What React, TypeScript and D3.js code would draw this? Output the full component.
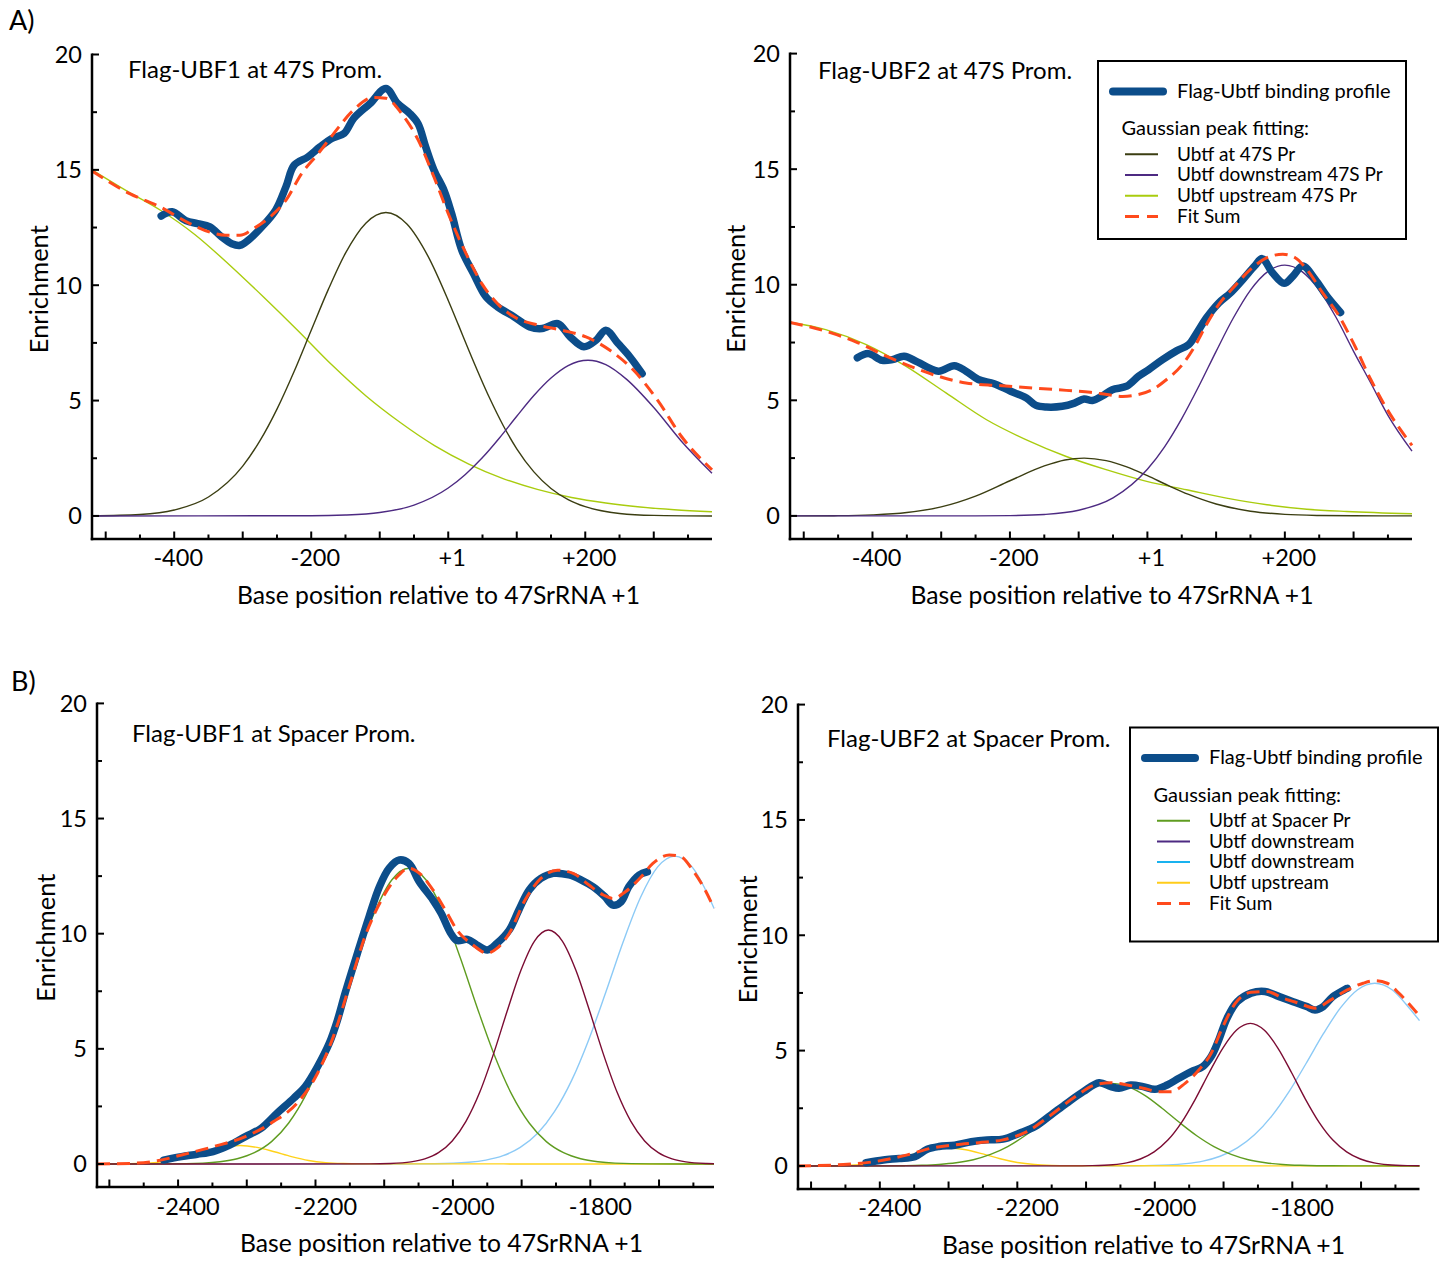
import React from 'react';
import * as d3 from 'd3';

type P = [number, number];

// ---------- tick values / labels ----------
const yTickValues = [0, 5, 10, 15, 20];
const xTickValuesA = [-400, -200, 0, 200];
const xTickLabelsA = ['-400', '-200', '+1', '+200'];
const xTickValuesB = [-2400, -2200, -2000, -1800];
const xTickLabelsB = ['-2400', '-2200', '-2000', '-1800'];

// ---------- panel titles ----------
const panelTitles = ['Flag-UBF1 at 47S Prom.', 'Flag-UBF2 at 47S Prom.', 'Flag-UBF1 at Spacer Prom.', 'Flag-UBF2 at Spacer Prom.'];
const legendLabelsA = ['Ubtf at 47S Pr', 'Ubtf downstream 47S Pr', 'Ubtf upstream 47S Pr', 'Fit Sum'];
const legendLabelsB = ['Ubtf at Spacer Pr', 'Ubtf downstream', 'Ubtf downstream', 'Ubtf upstream', 'Fit Sum'];

// ---------- A1: Flag-UBF1 at 47S promoter ----------
const a1Profile: P[] = [[-419, 13.0], [-403, 13.18], [-383, 12.8], [-366, 12.67], [-348, 12.53], [-331, 12.1], [-316, 11.8], [-304, 11.73], [-290, 12.0], [-272, 12.53], [-252, 13.25], [-237, 14.26], [-225, 15.2], [-205, 15.56], [-187, 16.0], [-170, 16.36], [-152, 16.58], [-138, 17.23], [-114, 17.88], [-91, 18.53], [-74, 17.88], [-56, 17.44], [-44, 17.0], [-33, 16.0], [-21, 15.0], [-6, 14.1], [5, 13.1], [20, 11.5], [37, 10.5], [55, 9.5], [72, 9.06], [96, 8.63], [119, 8.19], [137, 8.12], [160, 8.34], [178, 7.76], [198, 7.33], [216, 7.62], [230, 8.05], [248, 7.47], [265, 6.9], [283, 6.17]];
const a1FitSum: P[] = [[-520, 14.95], [-465, 13.97], [-421, 13.4], [-377, 12.67], [-348, 12.3], [-325, 12.17], [-304, 12.17], [-284, 12.46], [-260, 12.96], [-237, 13.68], [-214, 14.84], [-190, 15.7], [-167, 16.58], [-138, 17.6], [-109, 18.14], [-91, 18.1], [-68, 17.44], [-44, 16.3], [-21, 14.7], [2, 12.96], [26, 11.37], [49, 10.07], [72, 9.2], [96, 8.63], [131, 8.27], [166, 8.05], [201, 7.76], [236, 7.18], [271, 6.3], [306, 5.0], [341, 3.42], [385, 2.0]];
const a1At47S: P[] = [[-520, 0.007], [-450, 0.064], [-400, 0.255], [-350, 0.82], [-300, 2.16], [-275, 3.25], [-250, 4.63], [-225, 6.26], [-200, 8.05], [-175, 9.82], [-150, 11.39], [-120, 12.7], [-91, 13.15], [-60, 12.64], [-30, 11.28], [0, 9.34], [15, 8.27], [30, 7.18], [60, 5.13], [80, 3.93], [100, 2.91], [125, 1.91], [150, 1.19], [175, 0.71], [200, 0.4], [250, 0.108], [300, 0.024], [385, 0]];
const a1Downstream: P[] = [[-520, 0], [-200, 0.008], [-150, 0.038], [-100, 0.148], [-50, 0.47], [0, 1.21], [25, 1.8], [50, 2.53], [75, 3.39], [100, 4.32], [125, 5.22], [150, 5.98], [175, 6.52], [204, 6.75], [230, 6.56], [260, 5.93], [300, 4.7], [340, 3.25], [385, 1.85]];
const a1Upstream: P[] = [[-520, 15.0], [-470, 14.1], [-420, 13.25], [-370, 12.2], [-320, 10.9], [-270, 9.5], [-220, 8.05], [-170, 6.55], [-120, 5.2], [-70, 4.05], [-20, 3.05], [30, 2.25], [80, 1.62], [130, 1.15], [180, 0.8], [230, 0.56], [280, 0.39], [330, 0.27], [385, 0.18]];

// ---------- A2: Flag-UBF2 at 47S promoter ----------
const a2Profile: P[] = [[-422, 6.84], [-406, 7.02], [-386, 6.73], [-371, 6.76], [-354, 6.91], [-334, 6.65], [-304, 6.26], [-281, 6.5], [-264, 6.26], [-246, 5.9], [-223, 5.72], [-199, 5.39], [-176, 5.1], [-162, 4.78], [-147, 4.71], [-124, 4.74], [-106, 4.88], [-92, 5.06], [-80, 4.99], [-65, 5.2], [-51, 5.46], [-30, 5.61], [-13, 6.04], [2, 6.33], [22, 6.76], [43, 7.15], [60, 7.41], [72, 7.92], [86, 8.57], [104, 9.22], [121, 9.65], [139, 10.23], [156, 10.81], [167, 11.13], [182, 10.52], [199, 10.06], [212, 10.38], [226, 10.81], [244, 10.23], [261, 9.51], [281, 8.8]];
const a2FitSum: P[] = [[-520, 8.37], [-468, 7.99], [-421, 7.49], [-380, 6.91], [-339, 6.4], [-304, 6.04], [-264, 5.75], [-217, 5.64], [-164, 5.53], [-118, 5.43], [-83, 5.35], [-59, 5.25], [-36, 5.17], [-13, 5.25], [5, 5.43], [28, 5.9], [51, 6.55], [69, 7.34], [86, 8.28], [104, 9.15], [127, 9.94], [150, 10.66], [174, 11.17], [197, 11.32], [215, 11.17], [232, 10.66], [255, 9.65], [279, 8.64], [302, 7.34], [325, 5.9], [349, 4.6], [385, 3.05]];
const a2At47S: P[] = [[-520, 0], [-450, 0.01], [-400, 0.043], [-350, 0.144], [-300, 0.39], [-250, 0.857], [-200, 1.52], [-150, 2.16], [-120, 2.42], [-92, 2.5], [-60, 2.39], [-30, 2.12], [0, 1.74], [30, 1.32], [60, 0.93], [100, 0.515], [150, 0.203], [200, 0.065], [250, 0.017], [300, 0.003], [385, 0]];
const a2Downstream: P[] = [[-520, 0], [-250, 0.002], [-200, 0.013], [-150, 0.063], [-100, 0.245], [-50, 0.78], [0, 2.02], [25, 2.99], [50, 4.21], [75, 5.62], [100, 7.12], [125, 8.56], [150, 9.77], [175, 10.57], [200, 10.85], [225, 10.57], [250, 9.77], [275, 8.56], [300, 7.12], [325, 5.75], [350, 4.35], [385, 2.8]];
const a2Upstream: P[] = [[-520, 8.38], [-468, 8.06], [-409, 7.41], [-351, 6.47], [-293, 5.32], [-234, 4.16], [-176, 3.29], [-118, 2.57], [-59, 1.99], [-1, 1.49], [57, 1.13], [115, 0.77], [174, 0.48], [232, 0.29], [290, 0.19], [385, 0.09]];

// ---------- B1: Flag-UBF1 at Spacer promoter ----------
const b1Profile: P[] = [[-2421, 0.17], [-2395, 0.32], [-2372, 0.42], [-2349, 0.54], [-2325, 0.82], [-2302, 1.19], [-2279, 1.55], [-2256, 2.2], [-2232, 2.85], [-2215, 3.36], [-2197, 4.23], [-2180, 5.24], [-2168, 6.25], [-2157, 7.41], [-2139, 9.15], [-2122, 10.74], [-2107, 12.04], [-2093, 12.84], [-2078, 13.2], [-2064, 13.05], [-2049, 12.26], [-2029, 11.46], [-2017, 10.88], [-2003, 10.01], [-1994, 9.7], [-1979, 9.75], [-1965, 9.51], [-1950, 9.29], [-1936, 9.58], [-1918, 10.16], [-1904, 11.03], [-1889, 11.9], [-1872, 12.4], [-1854, 12.62], [-1831, 12.55], [-1813, 12.33], [-1796, 12.04], [-1779, 11.61], [-1767, 11.24], [-1755, 11.39], [-1744, 12.04], [-1729, 12.55], [-1717, 12.69]];
const b1FitSum: P[] = [[-2518, 0], [-2465, 0.03], [-2430, 0.14], [-2395, 0.39], [-2349, 0.75], [-2302, 1.19], [-2261, 1.84], [-2227, 2.63], [-2197, 3.94], [-2174, 5.53], [-2151, 7.7], [-2128, 9.87], [-2104, 11.46], [-2081, 12.47], [-2064, 12.84], [-2046, 12.55], [-2029, 11.9], [-2011, 11.03], [-1994, 10.16], [-1971, 9.51], [-1950, 9.15], [-1936, 9.36], [-1918, 10.01], [-1895, 11.46], [-1872, 12.4], [-1848, 12.76], [-1825, 12.62], [-1802, 12.11], [-1781, 11.68], [-1767, 11.53], [-1749, 11.82], [-1726, 12.47], [-1709, 13.05], [-1685, 13.42], [-1668, 13.34], [-1651, 12.76], [-1633, 11.9], [-1620, 11.1]];
const b1AtSpacer: P[] = [[-2518, 0], [-2414, 0.005], [-2364, 0.038], [-2339, 0.097], [-2314, 0.227], [-2289, 0.489], [-2264, 0.97], [-2239, 1.78], [-2214, 3.0], [-2189, 4.68], [-2164, 6.73], [-2139, 8.93], [-2114, 10.93], [-2089, 12.33], [-2064, 12.84], [-2039, 12.33], [-2014, 10.93], [-1989, 8.93], [-1964, 6.73], [-1939, 4.68], [-1914, 3.0], [-1889, 1.78], [-1864, 0.97], [-1839, 0.489], [-1814, 0.227], [-1789, 0.097], [-1764, 0.038], [-1714, 0.005], [-1620, 0]];
const b1Downstream: P[] = [[-2518, 0], [-2121, 0.003], [-2091, 0.019], [-2061, 0.089], [-2041, 0.22], [-2021, 0.49], [-2001, 1.0], [-1981, 1.85], [-1961, 3.11], [-1941, 4.77], [-1921, 6.64], [-1901, 8.41], [-1881, 9.69], [-1861, 10.16], [-1841, 9.69], [-1821, 8.41], [-1801, 6.64], [-1781, 4.77], [-1761, 3.11], [-1741, 1.85], [-1721, 1.0], [-1701, 0.49], [-1681, 0.22], [-1661, 0.089], [-1631, 0.019], [-1620, 0.01]];
const b1Downstream2: P[] = [[-2518, 0], [-2077, 0.001], [-2027, 0.011], [-1977, 0.074], [-1952, 0.169], [-1927, 0.36], [-1902, 0.72], [-1877, 1.32], [-1852, 2.28], [-1827, 3.64], [-1802, 5.42], [-1777, 7.5], [-1752, 9.66], [-1727, 11.57], [-1702, 12.9], [-1677, 13.37], [-1652, 12.9], [-1627, 11.57], [-1620, 11.1]];
const b1Upstream: P[] = [[-2518, 0], [-2485, 0.005], [-2460, 0.019], [-2435, 0.06], [-2410, 0.153], [-2385, 0.32], [-2360, 0.53], [-2335, 0.72], [-2310, 0.8], [-2285, 0.72], [-2260, 0.53], [-2235, 0.32], [-2210, 0.153], [-2185, 0.06], [-2160, 0.019], [-2135, 0.005], [-1620, 0]];

// ---------- B2: Flag-UBF2 at Spacer promoter ----------
const b2Profile: P[] = [[-2420, 0.14], [-2395, 0.26], [-2372, 0.32], [-2349, 0.4], [-2331, 0.72], [-2314, 0.84], [-2291, 0.9], [-2267, 1.05], [-2244, 1.13], [-2221, 1.16], [-2197, 1.42], [-2174, 1.71], [-2151, 2.21], [-2128, 2.72], [-2104, 3.22], [-2081, 3.61], [-2064, 3.44], [-2052, 3.37], [-2035, 3.51], [-2017, 3.44], [-2000, 3.32], [-1982, 3.51], [-1965, 3.8], [-1947, 4.09], [-1930, 4.31], [-1918, 4.74], [-1907, 5.46], [-1895, 6.4], [-1880, 7.12], [-1860, 7.49], [-1840, 7.56], [-1819, 7.34], [-1799, 7.12], [-1779, 6.91], [-1767, 6.76], [-1755, 6.91], [-1741, 7.34], [-1720, 7.7]];
const b2FitSum: P[] = [[-2519, 0], [-2453, 0.06], [-2407, 0.19], [-2360, 0.48], [-2325, 0.77], [-2291, 0.91], [-2256, 1.01], [-2221, 1.13], [-2186, 1.49], [-2151, 2.21], [-2116, 3.0], [-2087, 3.51], [-2064, 3.61], [-2040, 3.51], [-2017, 3.37], [-1994, 3.22], [-1976, 3.22], [-1956, 3.58], [-1936, 4.16], [-1918, 4.88], [-1901, 6.04], [-1883, 7.05], [-1860, 7.53], [-1837, 7.56], [-1813, 7.27], [-1790, 7.05], [-1767, 6.84], [-1744, 7.2], [-1720, 7.63], [-1697, 7.92], [-1680, 8.03], [-1662, 7.92], [-1645, 7.49], [-1615, 6.5]];
const b2AtSpacer: P[] = [[-2519, 0], [-2389, 0.004], [-2364, 0.011], [-2339, 0.027], [-2314, 0.063], [-2289, 0.136], [-2264, 0.27], [-2239, 0.5], [-2214, 0.84], [-2189, 1.31], [-2164, 1.88], [-2139, 2.49], [-2114, 3.05], [-2089, 3.44], [-2064, 3.58], [-2039, 3.44], [-2014, 3.05], [-1989, 2.49], [-1964, 1.88], [-1939, 1.31], [-1914, 0.84], [-1889, 0.5], [-1864, 0.27], [-1839, 0.136], [-1814, 0.063], [-1789, 0.027], [-1764, 0.011], [-1714, 0.002], [-1615, 0]];
const b2Downstream: P[] = [[-2519, 0], [-2121, 0.002], [-2091, 0.012], [-2061, 0.054], [-2041, 0.134], [-2021, 0.3], [-2001, 0.61], [-1981, 1.12], [-1961, 1.89], [-1941, 2.9], [-1921, 4.04], [-1901, 5.11], [-1881, 5.89], [-1861, 6.18], [-1841, 5.89], [-1821, 5.11], [-1801, 4.04], [-1781, 2.9], [-1761, 1.89], [-1741, 1.12], [-1721, 0.61], [-1701, 0.3], [-1681, 0.134], [-1661, 0.054], [-1631, 0.012], [-1615, 0.005]];
const b2Downstream2: P[] = [[-2519, 0], [-2080, 0.001], [-2030, 0.007], [-1980, 0.044], [-1955, 0.1], [-1930, 0.21], [-1905, 0.42], [-1880, 0.78], [-1855, 1.35], [-1830, 2.16], [-1805, 3.21], [-1780, 4.44], [-1755, 5.72], [-1730, 6.85], [-1705, 7.64], [-1680, 7.92], [-1655, 7.64], [-1630, 6.85], [-1615, 6.3]];
const b2Upstream: P[] = [[-2519, 0], [-2475, 0.005], [-2450, 0.019], [-2425, 0.06], [-2400, 0.15], [-2375, 0.31], [-2350, 0.52], [-2325, 0.7], [-2300, 0.78], [-2275, 0.7], [-2250, 0.52], [-2225, 0.31], [-2200, 0.15], [-2175, 0.06], [-2150, 0.019], [-2125, 0.005], [-1615, 0]];

// ---------- styles ----------
const FONT = 'Lato, "Open Sans", sans-serif';
const C = {
  profile: '#0c4d8a',
  fit: '#ff4a1c',
  at47S: '#3b3e12',
  down47S: '#4d2a82',
  up47S: '#a9cc0e',
  atSpacer: '#5f9c20',
  downMaroon: '#7b0c33',
  downLight: '#8ccaf6',
  upYellow: '#ffd21a',
  legDown: '#4d2a82',
  legDown2: '#19b2ef',
  legUp: '#ffcc1a',
};

type Comp = { data: P[]; color: string };
type PanelDef = {
  xDomain: [number, number];
  xRange: [number, number];
  yRange: [number, number];
  xTicks: number[];
  xLabels: string[];
  labelDx: number;
  title: string;
  titleX: number;
  titleY: number;
  yTitleX: number;
  xTitleX: number;
  xTitleY: number;
  tickLabelY: number;
  profile: P[];
  fit: P[];
  comps: Comp[];
};

const panels: PanelDef[] = [
  {
    xDomain: [-520, 385], xRange: [92, 712], yRange: [539, 54.5],
    xTicks: xTickValuesA, xLabels: xTickLabelsA, labelDx: 4,
    title: panelTitles[0], titleX: 128, titleY: 77.5, yTitleX: 38, xTitleX: 438.5, xTitleY: 603.5, tickLabelY: 565.5,
    profile: a1Profile, fit: a1FitSum,
    comps: [{ data: a1Upstream, color: C.up47S }, { data: a1At47S, color: C.at47S }, { data: a1Downstream, color: C.down47S }],
  },
  {
    xDomain: [-520, 385], xRange: [790, 1412], yRange: [539, 53.6],
    xTicks: xTickValuesA, xLabels: xTickLabelsA, labelDx: 4,
    title: panelTitles[1], titleX: 818, titleY: 79, yTitleX: 735, xTitleX: 1112, xTitleY: 603.5, tickLabelY: 565.5,
    profile: a2Profile, fit: a2FitSum,
    comps: [{ data: a2Upstream, color: C.up47S }, { data: a2At47S, color: C.at47S }, { data: a2Downstream, color: C.down47S }],
  },
  {
    xDomain: [-2518, -1620], xRange: [97, 714], yRange: [1187, 703.4],
    xTicks: xTickValuesB, xLabels: xTickLabelsB, labelDx: 10,
    title: panelTitles[2], titleX: 132, titleY: 741.5, yTitleX: 45, xTitleX: 441.5, xTitleY: 1251.5, tickLabelY: 1214.5,
    profile: b1Profile, fit: b1FitSum,
    comps: [{ data: b1Downstream2, color: C.downLight }, { data: b1Upstream, color: C.upYellow }, { data: b1AtSpacer, color: C.atSpacer }, { data: b1Downstream, color: C.downMaroon }],
  },
  {
    xDomain: [-2519, -1615], xRange: [798, 1419.5], yRange: [1189, 704.6],
    xTicks: xTickValuesB, xLabels: xTickLabelsB, labelDx: 10,
    title: panelTitles[3], titleX: 827, titleY: 746.5, yTitleX: 747, xTitleX: 1143.5, xTitleY: 1253.5, tickLabelY: 1215.5,
    profile: b2Profile, fit: b2FitSum,
    comps: [{ data: b2Downstream2, color: C.downLight }, { data: b2Upstream, color: C.upYellow }, { data: b2AtSpacer, color: C.atSpacer }, { data: b2Downstream, color: C.downMaroon }],
  },
];

function Panel({ p }: { p: PanelDef }) {
  const x = d3.scaleLinear().domain(p.xDomain).range(p.xRange);
  const y = d3.scaleLinear().domain([-1, 20]).range(p.yRange);
  const smooth = d3.line<P>().x(d => x(d[0])).y(d => y(d[1])).curve(d3.curveMonotoneX);
  const wiggly = d3.line<P>().x(d => x(d[0])).y(d => y(d[1])).curve(d3.curveCatmullRom.alpha(0.5));
  const left = p.xRange[0];
  const right = p.xRange[1];
  const bottom = y(-1);
  const top = y(20);
  const minorX = d3.range(Math.ceil(p.xDomain[0] / 50) * 50, p.xDomain[1] + 1, 50);
  const minorY = d3.range(0, 20.01, 2.5);
  return (
    <g>
      {p.comps.map((c, i) => (
        <path key={i} d={smooth(c.data) || ''} fill="none" stroke={c.color} strokeWidth={1.4} />
      ))}
      <path d={wiggly(p.profile) || ''} fill="none" stroke={C.profile} strokeWidth={7.5} strokeLinecap="round" strokeLinejoin="round" />
      <path d={smooth(p.fit) || ''} fill="none" stroke={C.fit} strokeWidth={3} strokeDasharray="13,7" />
      {/* axes */}
      <line x1={left} x2={left} y1={top - 1} y2={bottom + 1.25} stroke="#000" strokeWidth={2.5} />
      <line x1={left - 1.25} x2={right} y1={bottom} y2={bottom} stroke="#000" strokeWidth={2.5} />
      {minorY.map(v => (
        <line key={'yt' + v} x1={left} x2={left + (v % 5 === 0 ? 7 : 5)} y1={y(v)} y2={y(v)} stroke="#000" strokeWidth={2} />
      ))}
      {minorX.map(v => (
        <line key={'xt' + v} x1={x(v)} x2={x(v)} y1={bottom} y2={bottom - (v % 100 === 0 ? 7.5 : 4.5)} stroke="#000" strokeWidth={2} />
      ))}
      {yTickValues.map(v => (
        <text key={'yl' + v} x={left - 10} y={y(v) + 8.5} textAnchor="end" fontSize={23.5} fontFamily={FONT}>{v}</text>
      ))}
      {p.xTicks.map((v, i) => (
        <text key={'xl' + v} x={x(v) + p.labelDx} y={p.tickLabelY} textAnchor="middle" fontSize={23.5} fontFamily={FONT}>{p.xLabels[i]}</text>
      ))}
      <text x={p.titleX} y={p.titleY} fontSize={24} fontFamily={FONT}>{p.title}</text>
      <text x={p.xTitleX} y={p.xTitleY} textAnchor="middle" fontSize={24.7} fontFamily={FONT}>Base position relative to 47SrRNA +1</text>
      <text transform={`translate(${p.yTitleX},${(y(0) + y(20)) / 2 + 4}) rotate(-90)`} textAnchor="middle" dominantBaseline="central" fontSize={25.5} fontFamily={FONT}>Enrichment</text>
    </g>
  );
}

function Legend({ x0, y0, w, h, labels, colors, gap }: { x0: number; y0: number; w: number; h: number; labels: string[]; colors: string[]; gap: number }) {
  const rows = labels.map((l, i) => ({ l, c: colors[i], yy: y0 + 93.2 + i * gap }));
  return (
    <g fontFamily={FONT}>
      <rect x={x0} y={y0} width={w} height={h} fill="#fff" stroke="#000" strokeWidth={2} />
      <line x1={x0 + 15} x2={x0 + 65} y1={y0 + 30.5} y2={y0 + 30.5} stroke={C.profile} strokeWidth={8} strokeLinecap="round" />
      <text x={x0 + 79} y={y0 + 36.5} fontSize={20}>Flag-Ubtf binding profile</text>
      <text x={x0 + 23.5} y={y0 + 74} fontSize={20}>Gaussian peak fitting:</text>
      {rows.map((r, i) => (
        <g key={i}>
          <line x1={x0 + 27} x2={x0 + 60} y1={r.yy} y2={r.yy} stroke={r.c} strokeWidth={i === rows.length - 1 ? 3 : 2} strokeDasharray={i === rows.length - 1 ? '14,8' : undefined} />
          <text x={x0 + 79} y={r.yy + 6.3} fontSize={19}>{r.l}</text>
        </g>
      ))}
    </g>
  );
}

export default function App() {
  return (
    <svg width={1444} height={1262} style={{ position: 'absolute', left: 0, top: 0, background: '#fff' }}>
      <rect x={0} y={0} width={1444} height={1262} fill="#fff" />
      {panels.map((p, i) => <Panel key={i} p={p} />)}
      <text x={9} y={30} fontSize={27} fontFamily={FONT}>A)</text>
      <text x={11} y={691} fontSize={27} fontFamily={FONT}>B)</text>
      <Legend x0={1098} y0={61} w={308} h={178} labels={legendLabelsA} colors={[C.at47S, C.down47S, C.up47S, C.fit]} gap={20.8} />
      <Legend x0={1130} y0={727.5} w={308} h={214} labels={legendLabelsB} colors={[C.atSpacer, C.legDown, C.legDown2, C.legUp, C.fit]} gap={20.7} />
    </svg>
  );
}
